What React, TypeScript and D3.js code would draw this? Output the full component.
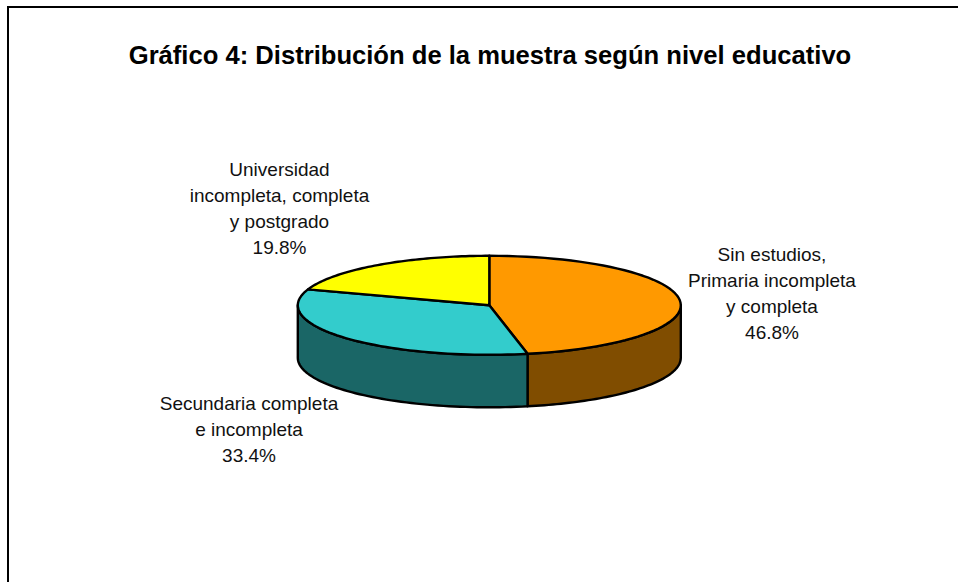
import React from 'react';
import * as d3 from 'd3';

const labels = [
  ['Sin estudios,', 'Primaria incompleta', 'y completa', '46.8%'],
  ['Secundaria completa', 'e incompleta', '33.4%'],
  ['Universidad', 'incompleta, completa', 'y postgrado', '19.8%'],
];
const values = [46.8, 33.4, 19.8];
const topColors = ['#FF9900', '#33CCCC', '#FFFF00'];
const sideColors = ['#804D00', '#1A6666', '#808000'];
const labelCenters = [
  [772, 260.5],
  [249, 410],
  [279.5, 176],
];

const cx = 489.3;
const cy = 305.3;
const rx = 191.5;
const ry = 49.5;
const depth = 52.5;

// point on the tilted pie; angle is clockwise from 12 o'clock
const rim = (a: number, dy = 0): [number, number] => [cx + rx * Math.sin(a), cy - ry * Math.cos(a) + dy];

const sweep = (a0: number, a1: number, dy = 0) =>
  d3.range(0, 61).map(i => rim(a0 + ((a1 - a0) * i) / 60, dy));

const line = d3.line();

export default function App() {
  const slices = d3.pie<number>().sort(null)(values);

  return (
    <svg width={958} height={582} style={{ position: 'absolute', left: 0, top: 0 }} fontFamily="'Liberation Sans', Arial, sans-serif">
      <rect width={958} height={582} fill="#fff" />
      <path d="M8,582V7H958" fill="none" stroke="#000" strokeWidth={2} />

      <text x={490} y={64} textAnchor="middle" fontSize={25.6} fontWeight="bold" fill="#000">
        Gráfico 4: Distribución de la muestra según nivel educativo
      </text>

      {/* side walls, only the part facing the viewer */}
      {slices.map((s, i) => {
        const a0 = Math.max(s.startAngle, Math.PI / 2);
        const a1 = Math.min(s.endAngle, (3 * Math.PI) / 2);
        if (a1 <= a0) return null;
        const pts = [...sweep(a0, a1), ...sweep(a0, a1, depth).reverse()];
        return <path key={i} d={line(pts) + 'Z'} fill={sideColors[i]} stroke="#000" strokeWidth={2.4} strokeLinejoin="round" />;
      })}

      {/* top face */}
      {slices.map((s, i) => {
        const pts: [number, number][] = [[cx, cy], ...sweep(s.startAngle, s.endAngle)];
        return <path key={i} d={line(pts) + 'Z'} fill={topColors[i]} stroke="#000" strokeWidth={2.4} strokeLinejoin="round" />;
      })}

      {labels.map((lines, i) => (
        <text key={i} textAnchor="middle" fontSize={19} fill="#111">
          {lines.map((t, j) => (
            <tspan key={j} x={labelCenters[i][0]} y={labelCenters[i][1] + j * 26}>
              {t}
            </tspan>
          ))}
        </text>
      ))}
    </svg>
  );
}
